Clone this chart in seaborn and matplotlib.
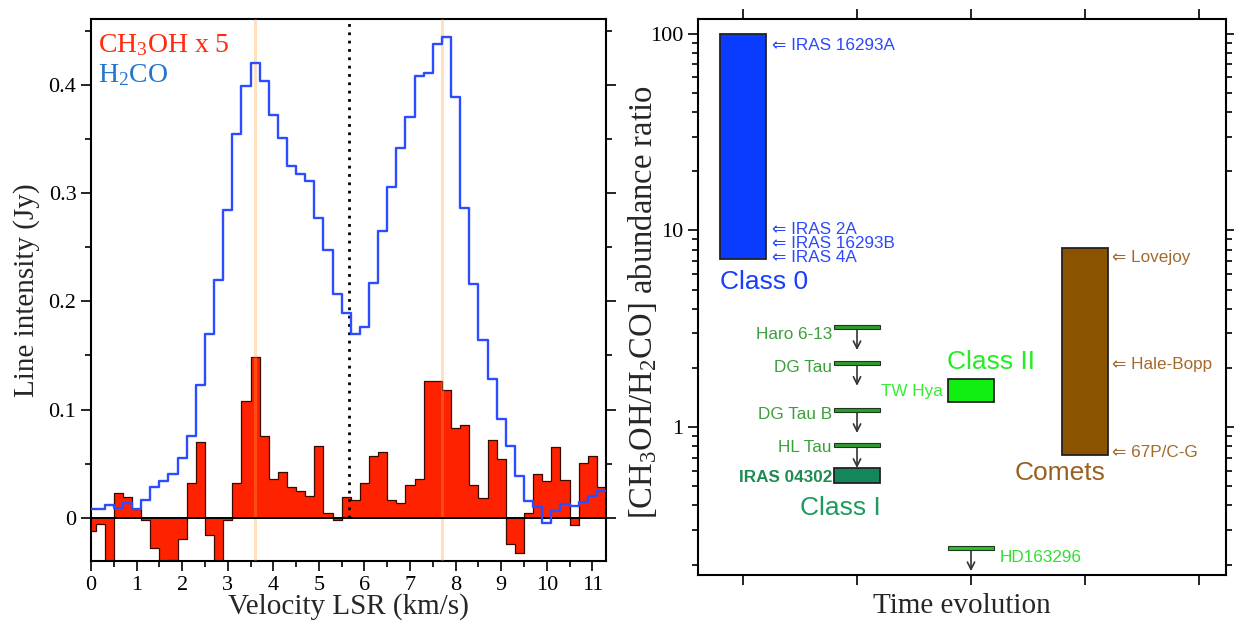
import numpy as np
import matplotlib
matplotlib.use("Agg")
import matplotlib.pyplot as plt
import seaborn as sns
from matplotlib.ticker import MultipleLocator, FixedLocator, LogLocator, NullFormatter

# ---------------- data: left panel (spectra) ----------------
velocity = [0.0, 0.2, 0.4, 0.6, 0.8, 1.0, 1.2, 1.4, 1.6, 1.8,
            2.0, 2.2, 2.4, 2.6, 2.8, 3.0, 3.2, 3.4, 3.6, 3.8,
            4.0, 4.2, 4.4, 4.6, 4.8, 5.0, 5.2, 5.4, 5.6, 5.8,
            6.0, 6.2, 6.4, 6.6, 6.8, 7.0, 7.2, 7.4, 7.6, 7.8,
            8.0, 8.2, 8.4, 8.6, 8.8, 9.0, 9.2, 9.4, 9.6, 9.8,
            10.0, 10.2, 10.4, 10.6, 10.8, 11.0, 11.2]
ch3oh_x5 = [-0.012, -0.006, -0.045, 0.023, 0.019, 0.008, -0.002, -0.028, -0.045, -0.039,
            -0.0195, 0.032, 0.070, -0.0157, -0.045, -0.002, 0.032, 0.108, 0.149, 0.076,
            0.036, 0.042, 0.028, 0.0244, 0.020, 0.066, 0.0043, -0.002, 0.019, 0.016,
            0.032, 0.057, 0.061, 0.016, 0.0136, 0.030, 0.036, 0.126, 0.126, 0.1185,
            0.083, 0.086, 0.030, 0.018, 0.072, 0.054, -0.024, -0.033, 0.0043, 0.040,
            0.034, 0.065, 0.035, -0.007, 0.051, 0.057, 0.028]
h2co = [0.0083, 0.0083, 0.012, 0.009, 0.0139, 0.0083, 0.016, 0.028, 0.0336, 0.040,
        0.0556, 0.0753, 0.123, 0.170, 0.220, 0.284, 0.355, 0.399, 0.420, 0.404,
        0.372, 0.351, 0.325, 0.318, 0.311, 0.2775, 0.2475, 0.207, 0.1895, 0.170,
        0.176, 0.217, 0.265, 0.306, 0.342, 0.370, 0.408, 0.411, 0.438, 0.444,
        0.389, 0.286, 0.216, 0.164, 0.128, 0.091, 0.066, 0.039, 0.015, 0.010,
        -0.005, 0.006, 0.013, 0.011, 0.0145, 0.020, 0.0244]
channel_width = 0.2
peak_velocities = [3.6, 7.7]
systemic_velocity = 5.65

# ---------------- data: right panel (abundance ratios) ----------------
stage_ticks = [1, 2, 3, 4, 5]
range_x = [1, 2, 3, 4]
range_low = [7.2, 0.52, 1.34, 0.72]
range_high = [100, 0.62, 1.75, 8.15]
range_colors = ["#0a3cff", "#14875a", "#11ee11", "#8b5200"]

limit_x = [2, 2, 2, 2, 3]
limit_value = [3.22, 2.12, 1.22, 0.81, 0.242]
limit_colors = ["#2e9b2e", "#2e9b2e", "#2e9b2e", "#2e9b2e", "#33bb33"]

source_labels = ["\u21d0 IRAS 16293A", "\u21d0 IRAS 2A", "\u21d0 IRAS 16293B", "\u21d0 IRAS 4A",
                 "Haro 6-13", "DG Tau", "DG Tau B", "HL Tau", "IRAS 04302",
                 "TW Hya", "HD163296",
                 "\u21d0 Lovejoy", "\u21d0 Hale-Bopp", "\u21d0 67P/C-G"]
source_x = [1.25, 1.25, 1.25, 1.25, 1.78, 1.78, 1.78, 1.78, 1.78, 2.75, 3.25, 4.24, 4.24, 4.24]
source_y = [86.9, 10.1, 8.6, 7.3, 2.97, 2.02, 1.16, 0.79, 0.557, 1.51, 0.218, 7.27, 2.09, 0.743]
source_ha = ["left"] * 4 + ["right"] * 6 + ["left"] * 4
source_colors = ["#2a48ff"] * 4 + ["#3aa03a"] * 4 + ["#1e8c50", "#33ee33", "#33dd33"] + ["#a3692d"] * 3
source_weight = ["normal"] * 8 + ["bold"] + ["normal"] * 5

class_labels = ["Class 0", "Class I", "Class II", "Comets"]
class_x = [0.8, 1.85, 2.79, 3.78]
class_y = [5.47, 0.387, 2.14, 0.583]
class_ha = ["left", "center", "left", "center"]
class_colors = ["#1a3cff", "#1f9a5e", "#22ee22", "#9a6020"]

# ---------------- figure ----------------
sns.set_style("ticks")
plt.rcParams["font.family"] = ["Liberation Serif", "DejaVu Serif"]
plt.rcParams["mathtext.default"] = "regular"

W, H = 1234, 621
fig = plt.figure(figsize=(W / 100, H / 100), dpi=100)
ax1 = fig.add_axes([91 / W, (H - 561) / H, (606 - 91) / W, (561 - 19) / H])
ax2 = fig.add_axes([698 / W, (H - 575) / H, (1226 - 698) / W, (575 - 19) / H])

# ---------- left panel ----------
v = np.array(velocity)
x_step = np.append(v - channel_width / 2, v[-1] + channel_width / 2)
red_step = np.append(ch3oh_x5, ch3oh_x5[-1])
blue_step = np.append(h2co, h2co[-1])

ax1.fill_between(x_step, red_step, 0, step="post", color="#ff2200", lw=0, zorder=1)
sns.lineplot(x=x_step, y=red_step, drawstyle="steps-post", color="#3a0a00", lw=0.9,
             ax=ax1, zorder=2, sort=False)
for pv in peak_velocities:
    ax1.axvline(pv, color="#ffa040", alpha=0.32, lw=2.2, zorder=3)
ax1.axhline(0, color="black", lw=1.4, zorder=4)
ax1.vlines(systemic_velocity, 0, 0.47, colors="black", linestyles=(0, (1, 2)), lw=2, zorder=4)
sns.lineplot(x=x_step, y=blue_step, drawstyle="steps-post", color="#2b4cff", lw=1.7,
             ax=ax1, zorder=5, sort=False)

ax1.set_xlim(0, 11.3)
ax1.set_ylim(-0.04, 0.461)
ax1.xaxis.set_major_locator(MultipleLocator(1))
ax1.xaxis.set_minor_locator(MultipleLocator(0.5))
ax1.yaxis.set_major_locator(FixedLocator([0, 0.1, 0.2, 0.3, 0.4]))
ax1.yaxis.set_minor_locator(MultipleLocator(0.05))
ax1.set_yticklabels(["0", "0.1", "0.2", "0.3", "0.4"])
ax1.tick_params(which="both", direction="out", right=True, top=False, width=1.2,
                labelsize=16, colors="black")
ax1.tick_params(which="major", length=7)
ax1.tick_params(which="minor", length=4)
ax1.set_xlabel("Velocity LSR (km/s)", fontsize=21, labelpad=-1)
ax1.set_ylabel("Line intensity (Jy)", fontsize=21, labelpad=6)
for s in ax1.spines.values():
    s.set_linewidth(1.5)
    s.set_color("black")
ax1.text(0.014, 0.952, "CH$_3$OH x 5", transform=ax1.transAxes, color="#ff2a10",
         fontsize=20, va="center", ha="left")
ax1.text(0.014, 0.897, "H$_2$CO", transform=ax1.transAxes, color="#2277cc",
         fontsize=20, va="center", ha="left")

# ---------- right panel ----------
ax2.set_yscale("log")
ax2.set_xlim(0.605, 5.237)
ax2.set_ylim(0.177, 119)

for x, lo, hi, c in zip(range_x, range_low, range_high, range_colors):
    ax2.bar(x, hi - lo, bottom=lo, width=0.4, color=c, edgecolor="#222222", lw=1.3, zorder=3)

f = 10 ** (1.9 / 196.5)
for x, yv, c in zip(limit_x, limit_value, limit_colors):
    ax2.bar(x, yv * f - yv / f, bottom=yv / f, width=0.4, color=c, edgecolor="#1b3a1b",
            lw=0.8, zorder=3)
    ax2.annotate("", xy=(x, yv * 0.765), xytext=(x, yv),
                 arrowprops=dict(arrowstyle="->", color="#333333", lw=1.2,
                                 mutation_scale=13, shrinkA=0, shrinkB=0), zorder=2)

for lab, x, yv, ha, c, wt in zip(source_labels, source_x, source_y, source_ha,
                                 source_colors, source_weight):
    ax2.text(x, yv, lab, ha=ha, va="center", color=c, fontsize=12.3, fontweight=wt,
             family=["Liberation Sans", "DejaVu Sans"])

for lab, x, yv, ha, c in zip(class_labels, class_x, class_y, class_ha, class_colors):
    ax2.text(x, yv, lab, ha=ha, va="center", color=c, fontsize=19,
             family=["Liberation Sans", "DejaVu Sans"])

ax2.xaxis.set_major_locator(FixedLocator(stage_ticks))
ax2.xaxis.set_minor_locator(FixedLocator([]))
ax2.yaxis.set_major_locator(FixedLocator([1, 10, 100]))
ax2.yaxis.set_minor_locator(LogLocator(base=10, subs=np.arange(2, 10), numticks=20))
ax2.yaxis.set_minor_formatter(NullFormatter())
ax2.set_yticklabels(["1", "10", "100"])
ax2.tick_params(which="both", direction="out", top=True, right=True, labelbottom=False,
                width=1.2, labelsize=16, colors="black")
ax2.tick_params(which="major", length=7)
ax2.tick_params(which="minor", length=4)
ax2.set_xlabel("Time evolution", fontsize=21, labelpad=6)
ax2.set_ylabel("[CH$_3$OH/H$_2$CO] abundance ratio", fontsize=23.5)
ax2.yaxis.set_label_coords(-0.074, 0.49)
for s in ax2.spines.values():
    s.set_linewidth(1.5)
    s.set_color("black")

fig.savefig("out.png", dpi=100)
